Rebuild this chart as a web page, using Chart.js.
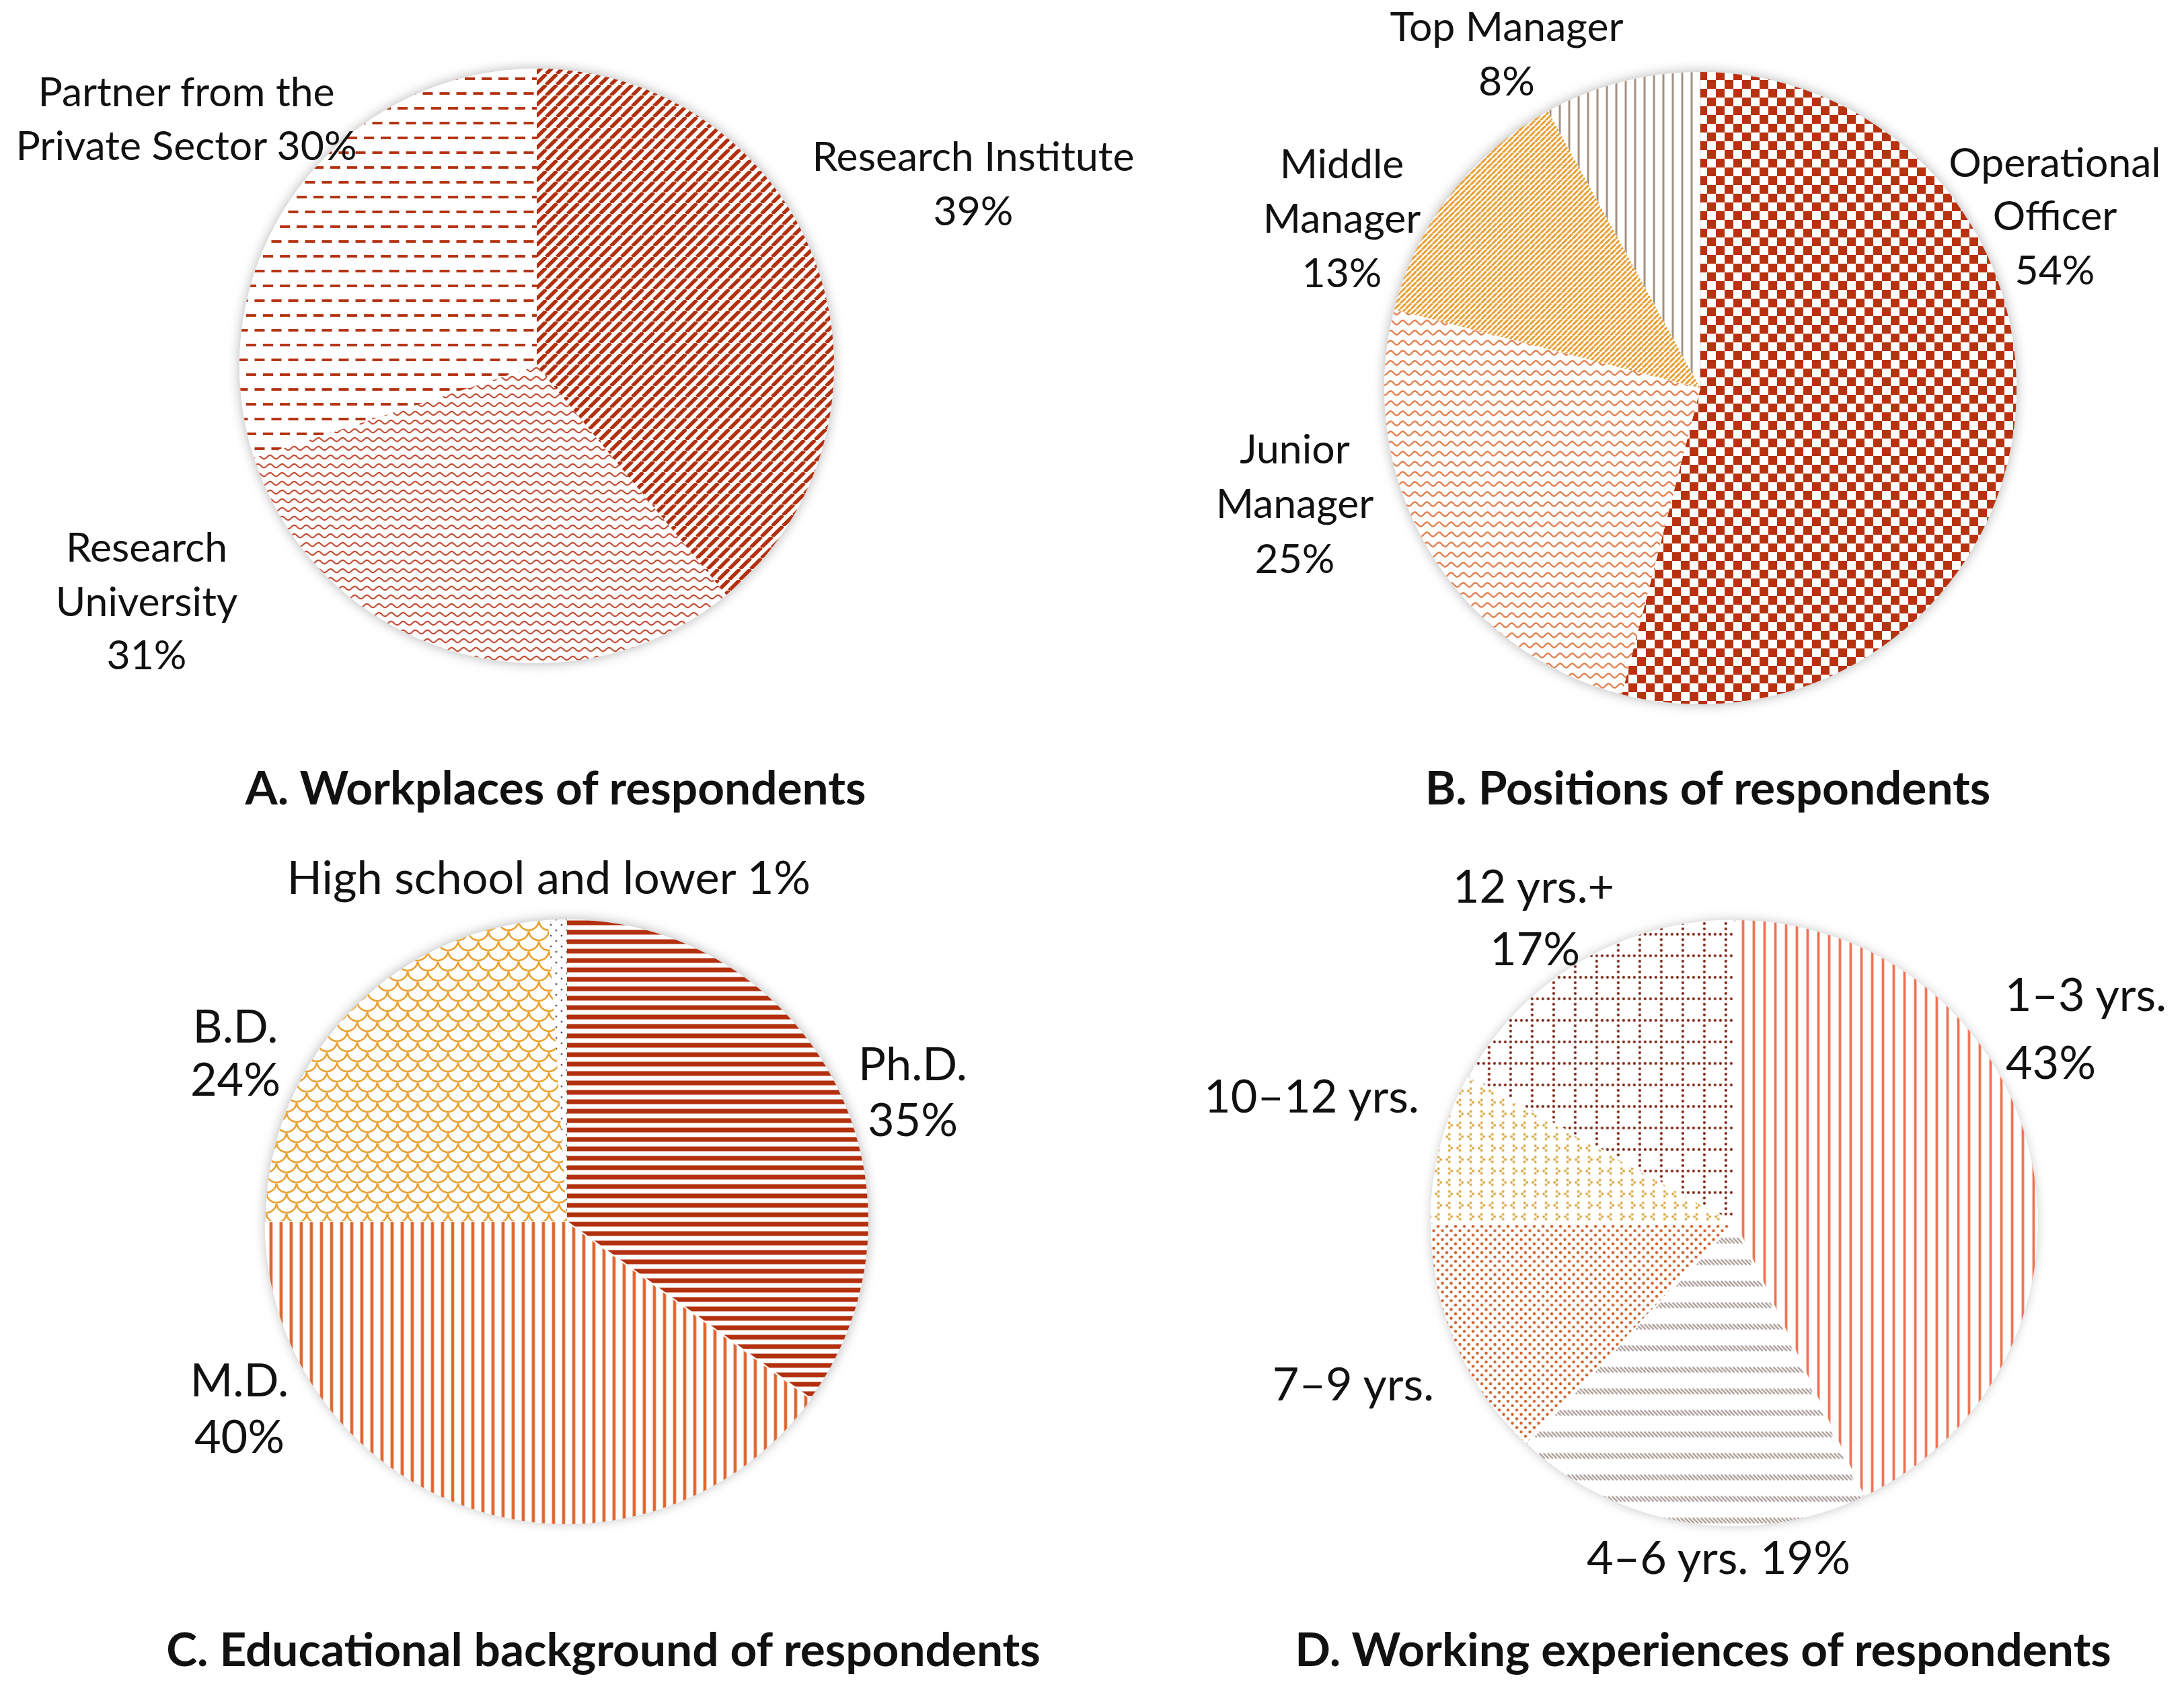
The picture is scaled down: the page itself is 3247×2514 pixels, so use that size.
<!DOCTYPE html>
<html>
<head>
<meta charset="utf-8">
<script src="https://cdn.jsdelivr.net/npm/chart.js@4.4.1/dist/chart.umd.min.js"></script>
<style>
html, body { margin: 0; padding: 0; background: #fff; }
#page { position: relative; width: 3247px; height: 2514px; overflow: hidden; background: #fff; }
canvas.pie { position: absolute; }
.txt { position: absolute; white-space: nowrap; transform: translate(-50%, -50%); font-family: Lato, 'Open Sans', sans-serif; color: #111; line-height: 1; }
.title { font-weight: bold; }
</style>
</head>
<body>
<div id="page"></div>
<script>
// ---- data ----
const workplaceLabels = ['Research Institute', 'Research University', 'Partner from the Private Sector'];
const workplaceValues = [39, 31, 30];

const positionLabels = ['Operational Officer', 'Junior Manager', 'Middle Manager', 'Top Manager'];
const positionValues = [54, 25, 13, 8];

const educationLabels = ['Ph.D.', 'M.D.', 'B.D.', 'High school and lower'];
const educationValues = [35, 40, 24, 1];

const experienceLabels = ['1–3 yrs.', '4–6 yrs.', '7–9 yrs.', '10–12 yrs.', '12 yrs.+'];
const experienceValues = [43, 19, 13, 8, 17];

const panelTitles = [
    'A. Workplaces of respondents',
    'B. Positions of respondents',
    'C. Educational background of respondents',
    'D. Working experiences of respondents'
];

// how each data label is broken into lines ({v} = value)
const workplaceLines = [['Research Institute', '{v}%'], ['Research', 'University', '{v}%'], ['Partner from the', 'Private Sector {v}%']];
const positionLines = [['Operational', 'Officer', '{v}%'], ['Junior', 'Manager', '{v}%'], ['Middle', 'Manager', '{v}%'], ['Top Manager', '{v}%']];
const educationLines = [['Ph.D.', '{v}%'], ['M.D.', '{v}%'], ['B.D.', '{v}%'], ['High school and lower {v}%']];
const experienceLines = [['1–3 yrs.', '{v}%'], ['4–6 yrs. {v}%'], ['7–9 yrs.'], ['10–12 yrs.'], ['12 yrs.+', '{v}%']];

// ---- layout ----
const page = document.getElementById('page');
const textShiftY = -4;

function tile(w, h, draw) {
    const c = document.createElement('canvas');
    c.width = w; c.height = h;
    const g = c.getContext('2d');
    g.fillStyle = '#fff';
    g.fillRect(0, 0, w, h);
    draw(g, w, h);
    return g.createPattern(c, 'repeat');
}
function diagUp(color, s, lw) {
    return tile(s, s, function (g) {
        g.strokeStyle = color; g.lineWidth = lw; g.beginPath();
        for (let k = -1; k <= 1; k++) { g.moveTo(k * s, s); g.lineTo(k * s + s, 0); }
        g.stroke();
    });
}
function wave(color, w, h, amp, lw) {
    return tile(w, h, function (g) {
        g.strokeStyle = color; g.lineWidth = lw; g.beginPath();
        for (let x = -1; x <= w + 1; x += 0.5) {
            const y = h / 2 + amp * Math.sin(2 * Math.PI * x / w);
            if (x === -1) g.moveTo(x, y); else g.lineTo(x, y);
        }
        g.stroke();
    });
}
function dashes(color, w, h, len, lw) {
    return tile(w, h, function (g) {
        g.fillStyle = color;
        g.fillRect(0, h / 4 - lw / 2, len, lw);
        g.fillRect(w / 2, 3 * h / 4 - lw / 2, len, lw);
        g.fillRect(w / 2 - w, 3 * h / 4 - lw / 2, len, lw);
    });
}
function checker(color, c) {
    return tile(2 * c, 2 * c, function (g) {
        g.fillStyle = color;
        g.fillRect(0, 0, c, c);
        g.fillRect(c, c, c, c);
    });
}
function vlines(color, s, lw) {
    return tile(s, s, function (g) { g.fillStyle = color; g.fillRect((s - lw) / 2, 0, lw, s); });
}
function hlines(color, s, lw) {
    return tile(s, s, function (g) { g.fillStyle = color; g.fillRect(0, (s - lw) / 2, s, lw); });
}
function scales(color, w, h, lw) {
    return tile(w, h, function (g) {
        g.strokeStyle = color; g.lineWidth = lw;
        const pts = [[0, 0], [w, 0], [w / 2, h / 2], [0, h], [w, h], [w / 2, -h / 2]];
        pts.forEach(function (p) {
            g.beginPath(); g.arc(p[0], p[1], w / 2, 0.1, Math.PI - 0.1); g.stroke();
        });
    });
}
function dot(g, x, y, r) { g.beginPath(); g.arc(x, y, r, 0, 2 * Math.PI); g.fill(); }
function gridDots(color, cell, step, r) {
    return tile(cell, cell, function (g) {
        g.fillStyle = color;
        for (let i = 0; i < cell; i += step) { dot(g, i + r, r, r); if (i > 0) dot(g, r, i + r, r); }
    });
}
function chevrons(color, w, h, r) {
    return tile(w, h, function (g) {
        g.fillStyle = color;
        const m = function (x, y, d) { dot(g, x, y - 3.5, r); dot(g, x + d * 3.5, y, r); dot(g, x, y + 3.5, r); };
        m(w / 4, h / 4, 1); m(3 * w / 4, h / 4, -1);
        m(w / 4, 3 * h / 4, -1); m(3 * w / 4, 3 * h / 4, 1);
    });
}
function dots(color, s, r) {
    return tile(s, s, function (g) { g.fillStyle = color; dot(g, s / 4, s / 4, r); dot(g, 3 * s / 4, 3 * s / 4, r); });
}
function hatchBand(color, w, h, band, lw) {
    return tile(w, h, function (g) {
        g.strokeStyle = color; g.lineWidth = lw; g.beginPath();
        for (let k = -3; k <= 3; k++) { g.moveTo(k * w, 1); g.lineTo(k * w + band * 0.9, band); }
        g.stroke();
    });
}

const pieShadow = {
    id: 'pieShadow',
    beforeDatasetsDraw(chart) {
        const arc = chart.getDatasetMeta(0).data[0];
        const ctx = chart.ctx;
        ctx.save();
        ctx.shadowColor = 'rgba(0,0,0,0.30)';
        ctx.shadowBlur = 18;
        ctx.fillStyle = '#fff';
        ctx.beginPath();
        ctx.arc(arc.x, arc.y, arc.outerRadius, 0, 2 * Math.PI);
        ctx.fill();
        ctx.restore();
    }
};

function makePie(cfg) {
    const pad = 40;
    const maxOff = Math.max.apply(null, cfg.offsets);
    const size = Math.round(2 * cfg.r + 2 * pad + maxOff);
    const cv = document.createElement('canvas');
    cv.className = 'pie';
    cv.width = size; cv.height = size;
    cv.style.width = size + 'px'; cv.style.height = size + 'px';
    cv.style.left = Math.round(cfg.cx - size / 2) + 'px';
    cv.style.top = Math.round(cfg.cy - size / 2) + 'px';
    page.appendChild(cv);
    new Chart(cv, {
        type: 'pie',
        data: {
            labels: cfg.labels,
            datasets: [{
                data: cfg.values,
                backgroundColor: cfg.fills,
                borderWidth: 0,
                offset: cfg.offsets,
                hoverOffset: 0
            }]
        },
        options: {
            responsive: false,
            devicePixelRatio: 1,
            animation: false,
            events: [],
            layout: { padding: pad },
            plugins: { legend: { display: false }, tooltip: { enabled: false } }
        },
        plugins: [pieShadow]
    });
}

function fitSize(text, weight, target) {
    const c = document.createElement('canvas').getContext('2d');
    c.font = weight + ' 100px Lato';
    return 100 * target / c.measureText(text).width;
}
const titleSize = fitSize(panelTitles[0], 'bold', 925);
const labelSizeAB = fitSize(workplaceLabels[0], 'normal', 479);
const labelSizeCD = fitSize('High school and lower 1%', 'normal', 780);

function addText(str, x, y, size, cls) {
    const d = document.createElement('div');
    d.className = 'txt' + (cls ? ' ' + cls : '');
    d.textContent = str;
    d.style.left = x + 'px';
    d.style.top = (y + textShiftY) + 'px';
    d.style.fontSize = size + 'px';
    page.appendChild(d);
}
function addLabels(lines, values, pos, size) {
    lines.forEach(function (ls, i) {
        ls.forEach(function (l, j) {
            addText(l.replace('{v}', values[i]), pos[i][j][0], pos[i][j][1], size);
        });
    });
}

makePie({
    cx: 798, cy: 544, r: 442,
    labels: workplaceLabels, values: workplaceValues, offsets: [0, 0, 0],
    fills: [diagUp('#B3300F', 16, 5.5), wave('#C24E36', 18, 13, 2.6, 2.2), dashes('#B3300F', 25, 44, 15, 3.8)]
});
makePie({
    cx: 2528, cy: 577, r: 470,
    labels: positionLabels, values: positionValues, offsets: [0, 0, 0, 0],
    fills: [checker('#B8320F', 13), wave('#E1804F', 18, 15, 3, 2.4), diagUp('#E8A23A', 8, 3.2), vlines('#A39182', 14, 3)]
});
makePie({
    cx: 843, cy: 1815, r: 448,
    labels: educationLabels, values: educationValues, offsets: [0, 8, 0, 0],
    fills: [hlines('#B3300F', 14, 7), vlines('#E0622A', 15, 4.5), scales('#E9A232', 30, 30, 2.6), dots('#6E5A66', 16, 1.5)]
});
makePie({
    cx: 2578, cy: 1818, r: 448,
    labels: experienceLabels, values: experienceValues, offsets: [10, 10, 10, 10, 10],
    fills: [vlines('#EE6D4E', 16, 3.6), hatchBand('#A0908A', 6, 32, 9, 2.2), dots('#D0622C', 13, 2.2), chevrons('#D8A53C', 32, 34, 1.9), gridDots('#7F2616', 32, 8, 2.1)]
});

addLabels(workplaceLines, workplaceValues,
    [[[1447, 235], [1447, 316]], [[218, 816], [218, 897], [218, 976]], [[277, 139], [277, 219]]], labelSizeAB);
addLabels(positionLines, positionValues,
    [[[3055, 244], [3055, 323], [3055, 404]], [[1925, 670], [1925, 751], [1925, 833]],
     [[1995, 246], [1995, 327], [1995, 408]], [[2240, 42], [2240, 123]]], labelSizeAB);
addLabels(educationLines, educationValues,
    [[[1357, 1584], [1357, 1667]], [[356, 2054], [356, 2138]], [[350, 1528], [350, 1607]], [[816, 1307]]], labelSizeCD);
addLabels(experienceLines, experienceValues,
    [[[3101, 1481], [3049, 1582]], [[2555, 2318]], [[2012, 2060]], [[1950, 1632]], [[2280, 1320], [2282, 1413]]], labelSizeCD);

const titlePos = [[826, 1174], [2539, 1174], [897, 2455], [2532, 2455]];
panelTitles.forEach(function (t, i) { addText(t, titlePos[i][0], titlePos[i][1], titleSize, 'title'); });
</script>
</body>
</html>
